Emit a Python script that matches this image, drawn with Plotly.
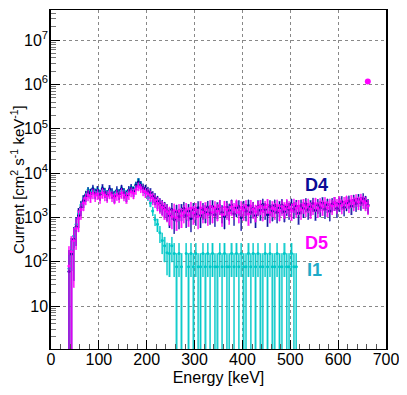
import math
import plotly.graph_objects as go

# ---------------- data ----------------
bin_width = 5.0
bin_low = list(range(35, 665, 5))          # lower bin edges in keV (126 bins)
count_unit = {"D4": 250.0, "D5": 250.0, "I1": 77.0}   # current per count (error size)

D4 = [60, 150, 320, 620, 1100, 1700, 2400, 3100, 3800, 3500,
      4400, 3500, 4100, 3300, 4500, 3700, 3200, 4300, 3600, 3000,
      4000, 3400, 4400, 3600, 3100, 4100, 4600, 3900, 5300, 6300,
      5400, 4700, 4400, 3900, 3600, 3000, 2700, 2300, 2000, 1800,
      1600, 1400, 1100, 1500, 900, 1350, 1050, 1400, 1600, 1100,
      1400, 950, 1500, 1200, 1650, 1100, 1500, 1300, 1700, 1250,
      1750, 1150, 1550, 1800, 1300, 1050, 1700, 1450, 1850, 1200,
      1650, 1750, 1000, 1700, 1400, 1850, 1300, 1600, 1100, 1750,
      1450, 1950, 1500, 1150, 1750, 1400, 1850, 1300, 1650, 1900,
      1350, 1750, 1500, 1950, 1550, 1800, 1250, 1850, 1600, 2000,
      1500, 1750, 2050, 1450, 1900, 1650, 2100, 1550, 1950, 1400,
      2000, 2150, 1600, 2050, 2250, 1700, 2100, 2350, 1800, 2450,
      2050, 2550, 2150, 2650, 2300, 1900]

D5 = [80, 170, 300, 560, 950, 1500, 2100, 2700, 3200, 3000,
      3500, 3100, 3400, 2900, 3600, 3200, 3000, 3500, 3100, 2800,
      3300, 3000, 3600, 3200, 2900, 3400, 3800, 3500, 4300, 5000,
      4600, 4000, 3700, 3400, 3100, 2700, 2400, 2100, 1900, 1700,
      1500, 1350, 1200, 1050, 1450, 1000, 1400, 1100, 1300, 1500,
      1150, 1600, 1250, 1500, 1050, 1650, 1300, 1550, 1200, 1750,
      1300, 1650, 1400, 1800, 1150, 1700, 1500, 1250, 1750, 1500,
      1850, 1300, 1650, 1450, 1750, 1200, 1800, 1550, 1350, 1700,
      1800, 1400, 1700, 1900, 1300, 1650, 1500, 1850, 1400, 1750,
      1550, 1900, 1650, 1450, 1950, 1600, 1800, 1500, 1900, 1650,
      1950, 1550, 1800, 2050, 1600, 2000, 1750, 2100, 1650, 1950,
      1800, 2150, 1900, 2250, 1850, 2150, 2350, 1950, 2400, 2100,
      2500, 2200, 2600, 2300, 2100, 1800]

I1 = [70, 180, 380, 700, 1200, 1900, 2600, 3300, 4200, 3800,
      4500, 3900, 4300, 3700, 4500, 4000, 3600, 4300, 3900, 3500,
      4100, 3800, 4400, 4000, 3600, 4200, 4800, 4400, 5600, 7000,
      5800, 4600, 3600, 2800, 2100, 1400, 900, 700, 450, 300,
      230, 160, 154, 230, 154, 77, 154, 77, None, 154,
      77, 154, 77, 154, 77, 77, 154, 77, 154, 77,
      154, 77, 77, 154, 77, 154, 77, 77, 154, 77,
      154, 77, 154, 77, 77, 154, 77, 154, 77, 154,
      77, 77, 154, 77, 154, 77, 77, 154, 77, 77,
      154, 77, 77, 154, 77, 77, None, None, None, None,
      None, None, None, None, None, None, None, None, None, None,
      None, None, None, None, None, None, None, None, None, None,
      None, None, None, None, None, None]

peak_energy = [662.0]      # isolated D5 point
peak_value = [1.17e6]

labels = ["D4", "D5", "I1"]
label_x = [555, 555, 550]
label_y = [5300, 270, 64]

y_tick_vals = [10, 1e2, 1e3, 1e4, 1e5, 1e6, 1e7]
y_tick_text = ["10", "10<sup>2</sup>", "10<sup>3</sup>", "10<sup>4</sup>",
               "10<sup>5</sup>", "10<sup>6</sup>", "10<sup>7</sup>"]
x_tick_vals = [0, 100, 200, 300, 400, 500, 600, 700]
y_title = "Current [cm<sup>2</sup> s<sup>-1</sup> keV<sup>-1</sup>]"
x_title = "Energy [keV]"

# ---------------- styling ----------------
series = [
    ("I1", I1, "#00C8C8", "rgba(0,200,200,0.40)"),
    ("D4", D4, "#0A0A96", "rgba(60,60,200,0.40)"),
    ("D5", D5, "#FF00FF", "rgba(255,0,255,0.40)"),
]
label_colors = ["#0A0A96", "#FF00FF", "#1EAAC8"]

fig = go.Figure()
centers = [b + bin_width / 2 for b in bin_low]

for name, vals, col, boxcol in series:
    unit = count_unit[name]
    xs, ys, errs_up, errs_dn, bases, heights = [], [], [], [], [], []
    for c, v in zip(centers, vals):
        if v is None:
            continue
        e = math.sqrt(v * unit)
        lo = max(v - e, 0.3)
        xs.append(c)
        ys.append(v)
        errs_up.append(e)
        errs_dn.append(min(e, v))
        bases.append(lo)
        heights.append(v + e - lo)
    fig.add_trace(go.Bar(x=xs, y=heights, base=bases, width=bin_width,
                         marker=dict(color=boxcol, line=dict(width=0)),
                         showlegend=False, hoverinfo="skip"))
    fig.add_trace(go.Scatter(x=xs, y=ys, mode="markers", name=name,
                             marker=dict(color=col, size=3),
                             error_y=dict(type="data", array=errs_up, arrayminus=errs_dn,
                                          symmetric=False, color=col, thickness=1, width=0),
                             error_x=dict(type="constant", value=bin_width / 2,
                                          color=col, thickness=1, width=0),
                             showlegend=False))

fig.add_trace(go.Scatter(x=peak_energy, y=peak_value, mode="markers",
                         marker=dict(color="#FF00FF", size=6), showlegend=False))

for t, lx, ly, lc in zip(labels, label_x, label_y, label_colors):
    fig.add_annotation(x=lx, y=math.log10(ly), text="<b>%s</b>" % t, showarrow=False,
                       font=dict(family="Liberation Sans", size=18, color=lc))

# y-axis title as a rotated annotation for exact placement
fig.add_annotation(xref="paper", yref="paper", x=-0.1, y=0.5, text=y_title,
                   textangle=-90, showarrow=False, xanchor="center", yanchor="middle",
                   font=dict(family="Liberation Sans", size=15, color="black"))

# page body adds an 8px offset; the figure is sized to fit the window
fig.update_layout(
    width=399, height=387,
    margin=dict(l=43, r=21, t=2, b=46),
    paper_bgcolor="white", plot_bgcolor="white",
    barmode="overlay", bargap=0,
    font=dict(family="Liberation Sans", size=16, color="black"),
    showlegend=False,
)
fig.update_xaxes(
    automargin=False,
    range=[0, 700], tickvals=x_tick_vals, ticks="inside", ticklen=9, tickwidth=1,
    tickcolor="black", showline=True, linecolor="black", linewidth=1, mirror=True,
    showgrid=True, gridcolor="#888888", griddash="dot", gridwidth=1, zeroline=False,
    minor=dict(ticks="inside", ticklen=5, dtick=20, tickcolor="#555555", showgrid=False),
    title=dict(text=x_title, font=dict(size=16), standoff=4),
    tickfont=dict(size=16), ticklabelstandoff=-4,
)
minor_y = [m * 10 ** d for d in range(0, 8) for m in range(2, 10)]
fig.update_yaxes(
    automargin=False,
    type="log", range=[0.03, 7.68], tickvals=y_tick_vals, ticktext=y_tick_text,
    ticks="inside", ticklen=9, tickwidth=1, tickcolor="black",
    showline=True, linecolor="black", linewidth=1.5, mirror=True,
    showgrid=True, gridcolor="#888888", griddash="dot", gridwidth=1, zeroline=False,
    minor=dict(ticks="inside", ticklen=5, tickvals=minor_y, tickcolor="#777777", showgrid=False),
    tickfont=dict(size=16), ticklabelstandoff=-2,
)

fig.write_html("out.html")
